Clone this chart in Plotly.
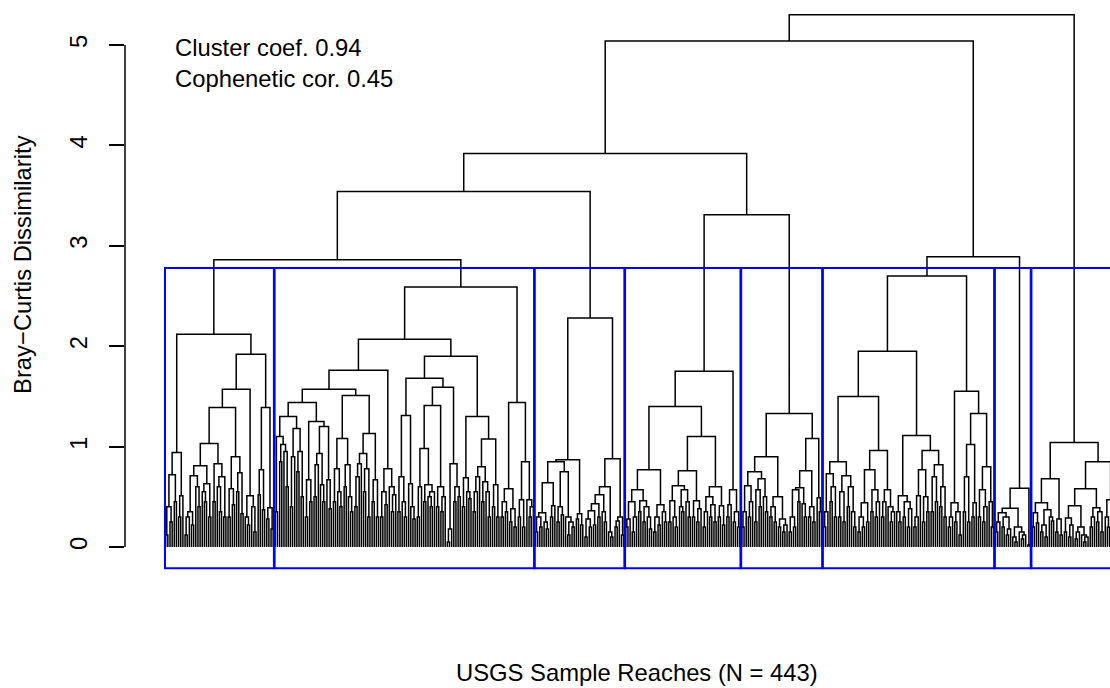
import sys
import plotly.graph_objects as go

sys.setrecursionlimit(10000)

# Merge heights between neighbouring leaves (left to right) inside each of the 8 clusters
cluster1_gaps = [0.12, 0.40, 0.25, 0.72, 0.45, 0.94, 0.30, 0.51, 2.12,
                 0.12, 0.30, 0.35, 0.22, 0.71, 0.60, 0.40, 0.81,
                 0.55, 0.45, 0.63, 0.30, 1.03,
                 0.45, 0.83, 0.60, 0.35, 0.70, 0.30, 1.39,
                 0.30, 0.58, 0.42, 0.90,
                 0.55, 0.74, 0.33, 1.57,
                 0.30, 0.22, 0.51, 0.40, 0.15, 1.92,
                 0.52, 0.77, 0.37, 1.39,
                 0.28, 0.39, 0.18]
cluster2_gaps = [0.35, 1.10, 0.85, 1.02, 0.95, 0.60, 1.30,
                 0.40, 0.90, 1.18, 0.75, 0.95, 0.50, 1.44,
                 0.30, 0.67, 0.45, 1.25,
                 0.50, 0.82, 0.93, 0.62, 0.45, 1.20, 0.67, 0.38, 1.57,
                 0.45, 0.78, 0.55, 0.40, 1.08, 0.60, 0.82, 0.50, 0.35, 1.51,
                 0.40, 0.70, 0.83, 0.93, 0.55, 0.78, 0.30, 1.13, 0.45, 0.67, 0.30, 1.76,
                 0.30, 0.55, 0.42, 0.78, 0.60, 0.35, 0.52, 2.07,
                 0.35, 0.70, 0.45, 0.30, 1.31, 0.63, 0.40, 0.28, 1.68,
                 0.30, 0.60, 0.98, 0.45, 0.62, 0.50, 0.40, 0.55, 1.41, 0.40, 0.60, 0.35, 0.50, 1.59,
                 0.05, 0.18, 0.83, 0.45, 0.60, 0.50, 1.90,
                 0.40, 0.69, 0.55, 0.48, 1.30,
                 0.35, 0.55, 0.70, 0.80, 0.45, 0.65, 0.55, 0.30, 1.075, 0.40, 0.62, 0.30, 2.59,
                 0.30, 0.45, 0.35, 0.58, 0.25, 0.38, 0.20, 1.44,
                 0.30, 0.47, 0.20, 0.85, 0.47, 0.30, 0.40]
cluster3_gaps = [0.15, 0.30, 0.20, 0.34, 0.25, 0.18, 0.64, 0.30, 0.41, 0.85,
                 0.25, 0.40, 0.32, 0.75, 0.30, 0.12, 0.25, 0.20, 0.87,
                 0.28, 0.33, 0.22, 2.28,
                 0.10, 0.28, 0.20, 0.36, 0.22, 0.43, 0.30, 0.52, 0.35, 0.25, 0.60, 0.15, 0.10, 0.88,
                 0.20, 0.26, 0.30, 0.12]
cluster4_gaps = [0.20, 0.28, 0.45, 0.15, 0.30, 0.57, 0.35, 0.46, 0.25, 0.40, 0.30, 0.18, 0.77,
                 0.15, 0.30, 0.22, 0.42, 0.35, 0.25, 1.40,
                 0.25, 0.46, 0.30, 0.20, 0.61, 0.40, 0.35, 0.57, 0.45, 0.30, 0.76,
                 0.30, 0.46, 0.25, 0.38, 1.10,
                 0.20, 0.35, 0.50, 0.30, 0.42, 0.25, 0.60, 0.30, 0.41, 0.22, 1.75,
                 0.30, 0.42, 0.57, 0.25, 0.35, 0.20]
cluster5_gaps = [0.20, 0.35, 0.61, 0.30, 0.45, 0.75,
                 0.25, 0.57, 0.40, 0.68, 0.50, 0.35, 0.90,
                 0.30, 0.40, 0.25, 0.50, 0.20, 0.28, 0.15, 0.22, 1.33,
                 0.15, 0.30, 0.20, 0.57, 0.45, 0.59, 0.43, 0.30, 0.76,
                 0.30, 0.40, 0.25, 1.08,
                 0.49, 0.35]
cluster6_gaps = [0.20, 0.35, 0.73, 0.45, 0.60, 0.30, 0.85,
                 0.30, 0.55, 0.25, 0.71, 0.40, 0.60, 0.35, 0.20, 1.50,
                 0.15, 0.30, 0.20, 0.44, 0.25, 0.77, 0.35, 0.57, 0.30, 0.45, 0.96,
                 0.30, 0.45, 0.57, 0.40, 0.25, 0.35, 1.95,
                 0.35, 0.25, 0.51, 0.30, 0.45, 0.20, 0.38, 1.11,
                 0.20, 0.30, 0.51, 0.77, 0.25, 0.50, 0.35, 0.96,
                 0.35, 0.70, 0.45, 0.82, 0.40, 0.60, 0.30, 2.70,
                 0.20, 0.30, 0.44, 0.25, 0.35, 0.12, 1.55,
                 0.35, 0.70, 0.25, 1.02, 0.30, 0.44, 1.33,
                 0.30, 0.57, 0.25, 0.40, 0.80, 0.45, 0.20]
cluster7_gaps = [0.15, 0.25, 0.34, 0.20, 0.30, 0.12, 0.18, 0.385,
                 0.10, 0.05, 0.20, 0.15, 0.08, 0.12, 0.585, 0.02]
cluster8_gaps = [0.20, 0.34, 0.24, 0.44,
                 0.15, 0.22, 0.10, 0.37, 0.30, 0.26, 0.68,
                 0.15, 0.28, 0.12, 1.04,
                 0.15, 0.29, 0.10, 0.22, 0.41,
                 0.08, 0.15, 0.20, 0.12, 0.05, 0.10, 0.58,
                 0.20, 0.30, 0.39, 0.25, 0.35, 0.15, 0.85,
                 0.30, 0.20, 0.47, 0.25, 0.35]
# Heights joining consecutive clusters (1|2, 2|3, ..., 7|8)
between_cluster_heights = [2.86, 3.54, 3.92, 3.31, 5.04, 2.89, 5.30]

y_tick_values = [0, 1, 2, 3, 4, 5]
y_tick_labels = ["0", "1", "2", "3", "4", "5"]
stats_lines = ["Cluster coef. 0.94", "Cophenetic cor. 0.45"]
x_title = "USGS Sample Reaches (N = 443)"
y_title = "Bray\u2212Curtis Dissimilarity"
k_clusters = 8

clusters = [cluster1_gaps, cluster2_gaps, cluster3_gaps, cluster4_gaps,
            cluster5_gaps, cluster6_gaps, cluster7_gaps, cluster8_gaps]
gaps = []
for i, c in enumerate(clusters):
    gaps += c
    if i < len(between_cluster_heights):
        gaps.append(between_cluster_heights[i])
n_leaves = len(gaps) + 1
sizes = [len(c) + 1 for c in clusters]

xs, ys = [], []


def build(lo, hi):
    """Leaves lo..hi (1-based). Returns (x, height) of the subtree top."""
    if lo == hi:
        return float(lo), 0.0
    k = max(range(lo, hi), key=lambda t: gaps[t - 1])
    h = gaps[k - 1]
    xl, yl = build(lo, k)
    xr, yr = build(k + 1, hi)
    xs.extend([xl, xl, xr, xr, None])
    ys.extend([yl, h, h, yr, None])
    return 0.5 * (xl + xr), h


build(1, n_leaves)

fig = go.Figure()
fig.add_trace(go.Scatter(x=xs, y=ys, mode="lines",
                         line=dict(color="black", width=1.5),
                         hoverinfo="skip", showlegend=False))

# rect.hclust style boxes
heights_sorted = sorted(gaps, reverse=True)
rect_top = 0.5 * (heights_sorted[k_clusters - 2] + heights_sorted[k_clusters - 1])
y_lo = -0.249
y_hi = 5.448
usr_bottom = -0.2124
shapes = []
m = 0
for s in sizes:
    shapes.append(dict(type="rect", xref="x", yref="y",
                       x0=m + 0.66, x1=m + s + 0.33, y0=usr_bottom, y1=rect_top,
                       line=dict(color="#0000FF", width=2), fillcolor="rgba(0,0,0,0)"))
    m += s
# y axis line from 0 to 5 (R style)
shapes.append(dict(type="line", xref="paper", yref="y", x0=0, x1=0,
                   y0=y_tick_values[0], y1=y_tick_values[-1],
                   line=dict(color="black", width=1.5)))

font_family = "Liberation Sans, Arial, Helvetica, sans-serif"
fs = 23.8

annotations = [
    dict(text="<br>".join(stats_lines), xref="paper", yref="paper", x=0.0487, y=0.8899,
         xanchor="left", yanchor="middle", align="left", showarrow=False,
         font=dict(size=fs, color="black", family=font_family)),
    dict(text=y_title, xref="paper", yref="paper", x=-0.1036, y=0.5385,
         xanchor="center", yanchor="middle", textangle=-90, showarrow=False,
         font=dict(size=fs, color="black", family=font_family)),
    dict(text=x_title, xref="paper", yref="paper", x=0.5200, y=-0.1757,
         xanchor="center", yanchor="middle", showarrow=False,
         font=dict(size=fs, color="black", family=font_family)),
]

# leaf j sits at pixel 163.55 + 2.15*j ; plot area spans pixels 125..1110
x_range = [(125 - 163.55) / 2.15, (1110 - 163.55) / 2.15]

fig.update_layout(
    width=1110, height=688,
    margin=dict(l=125, r=0, t=0, b=116, pad=0),
    paper_bgcolor="white", plot_bgcolor="white",
    shapes=shapes, annotations=annotations,
    font=dict(family=font_family, color="black"),
    xaxis=dict(range=x_range, visible=False),
    yaxis=dict(range=[y_lo, y_hi], tickmode="array", tickvals=y_tick_values,
               ticktext=y_tick_labels, ticks="outside", ticklen=15, tickwidth=1.5,
               tickcolor="black", showgrid=False, zeroline=False, showline=False,
               tickangle=-90, tickfont=dict(size=fs, color="black", family=font_family),
               ticklabelstandoff=12),
)

fig.write_html("out.html")
